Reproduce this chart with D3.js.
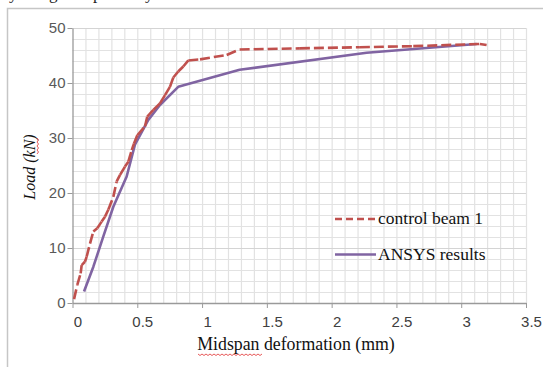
<!DOCTYPE html>
<html>
<head>
<meta charset="utf-8">
<script src="https://cdn.jsdelivr.net/npm/d3@7"></script>
<style>
  body { margin: 0; background: #fff; }
  svg { display: block; }
</style>
</head>
<body>
<div id="chart"></div>
<script>
// control beam 1 (experimental), deformation in mm / load in kN
var beam_x = [0.012, 0.037, 0.063, 0.071, 0.096, 0.109, 0.135, 0.161, 0.191, 0.225, 0.251, 0.277,
    0.315, 0.341, 0.367, 0.405, 0.431, 0.457, 0.475, 0.5, 0.559, 0.577, 0.624, 0.675, 0.714,
    0.752, 0.778, 0.816, 0.855, 0.894, 0.984, 1.19, 1.29, 1.755, 2.218, 2.63, 3.144, 3.196];
var beam_y = [0.7, 3.3, 5.4, 6.9, 7.5, 8.4, 10.8, 13.0, 13.6, 14.8, 15.7, 17.0,
    19.3, 22.1, 23.3, 24.8, 25.7, 27.8, 29.0, 30.5, 32.1, 33.9, 35.1, 36.3, 37.8,
    39.3, 41.0, 42.1, 43.0, 44.1, 44.3, 45.1, 46.1, 46.3, 46.5, 46.7, 47.1, 46.9];

// ANSYS results
var ansys_x = [0.089, 0.161, 0.238, 0.315, 0.418, 0.482, 0.585, 0.675, 0.816, 1.29, 2.27, 3.119];
var ansys_y = [2.1, 6.6, 12.1, 17.5, 23.0, 28.8, 33.3, 36.0, 39.3, 42.4, 45.5, 47.1];

var x_ticks = [0, 0.5, 1, 1.5, 2, 2.5, 3, 3.5];
var y_ticks = [0, 10, 20, 30, 40, 50];
var legend_names = ["control beam  1", "ANSYS results"];

var svg_width = 543, svg_height = 367;
var plot = {left: 72.5, right: 526, top: 28, bottom: 303};
var red = "#c0504d", purple = "#8064a2";

var svg = d3.select("#chart").append("svg")
    .attr("width", svg_width)
    .attr("height", svg_height);

// fragment of the text line above the figure (only descenders visible)
svg.append("text")
    .attr("y", -1)
    .attr("font-family", "'Liberation Serif', serif")
    .attr("font-size", "17px")
    .attr("fill", "#222")
    .selectAll("tspan")
    .data([[9, "y"], [49, "g"], [93, "p"], [145, "y"]])
    .enter().append("tspan")
    .attr("x", function(d) { return d[0]; })
    .text(function(d) { return d[1]; });

// chart frame
svg.append("path")
    .attr("d", "M7.5," + svg_height + "V8.5H" + svg_width)
    .attr("fill", "none")
    .attr("stroke", "#c6c6c6")
    .attr("stroke-width", 1.5);

var xScale = d3.scaleLinear().domain([0, 3.5]).range([plot.left, plot.right]);
var yScale = d3.scaleLinear().domain([0, 50]).range([plot.bottom, plot.top]);

// minor gridlines
svg.append("g")
    .attr("transform", "translate(0," + plot.bottom + ")")
    .call(d3.axisBottom(xScale).tickValues(d3.range(1, 36).map(function(i) { return i / 10; }))
        .tickSize(-(plot.bottom - plot.top)).tickFormat(""))
    .call(function(g) { g.select(".domain").remove(); })
    .selectAll("line").attr("stroke", "#e2e2e2").attr("stroke-width", 1.2);

svg.append("g")
    .attr("transform", "translate(" + plot.left + ",0)")
    .call(d3.axisLeft(yScale).tickValues(d3.range(2, 51, 2))
        .tickSize(-(plot.right - plot.left)).tickFormat(""))
    .call(function(g) { g.select(".domain").remove(); })
    .selectAll("line").attr("stroke", "#e2e2e2").attr("stroke-width", 1.2);

// major gridlines
svg.append("g")
    .attr("transform", "translate(" + plot.left + ",0)")
    .call(d3.axisLeft(yScale).tickValues(y_ticks.slice(1))
        .tickSize(-(plot.right - plot.left)).tickFormat(""))
    .call(function(g) { g.select(".domain").remove(); })
    .selectAll("line").attr("stroke", "#d4d4d4").attr("stroke-width", 1.2);

// y axis
var yAxis = svg.append("g")
    .attr("transform", "translate(" + plot.left + ",0)")
    .call(d3.axisLeft(yScale).tickValues(y_ticks).tickSize(5).tickPadding(2).tickSizeOuter(0));
yAxis.select(".domain").attr("stroke", "#9a9a9a").attr("stroke-width", 1.3);
yAxis.selectAll("line").attr("stroke", "#9a9a9a");
yAxis.selectAll("text")
    .attr("font-family", "'Liberation Sans', sans-serif")
    .attr("font-size", "15px")
    .attr("fill", "#595959");

// x axis
var xAxis = svg.append("g")
    .attr("transform", "translate(0," + plot.bottom + ")")
    .call(d3.axisBottom(xScale).tickValues(x_ticks).tickFormat(d3.format("~g"))
        .tickSize(5).tickPadding(8).tickSizeOuter(0));
xAxis.select(".domain").attr("stroke", "#9a9a9a").attr("stroke-width", 1.3);
xAxis.selectAll("line").attr("stroke", "#9a9a9a");
xAxis.selectAll("text")
    .attr("dx", 5)
    .attr("font-family", "'Liberation Sans', sans-serif")
    .attr("font-size", "15px")
    .attr("fill", "#404040");

// series
var line = d3.line()
    .x(function(d) { return xScale(d[0]); })
    .y(function(d) { return yScale(d[1]); });

var beam = d3.zip(beam_x, beam_y);
var ansys = d3.zip(ansys_x, ansys_y);

svg.append("path")
    .datum(ansys)
    .attr("d", line)
    .attr("fill", "none")
    .attr("stroke", purple)
    .attr("stroke-width", 2.6)
    .attr("stroke-linejoin", "round");

// dash pattern restarts on every segment, like the spreadsheet does
svg.append("g").selectAll("path")
    .data(d3.pairs(beam))
    .enter().append("path")
    .attr("d", line)
    .attr("fill", "none")
    .attr("stroke", red)
    .attr("stroke-width", 2.6)
    .attr("stroke-dasharray", "10,4");

// legend
var legend = svg.append("g");
var legend_rows = legend.selectAll("g")
    .data(legend_names)
    .enter().append("g")
    .attr("transform", function(d, i) { return "translate(335," + (219 + i * 35.5) + ")"; });

legend_rows.append("line")
    .attr("x1", 0).attr("x2", 41)
    .attr("stroke", function(d, i) { return i == 0 ? red : purple; })
    .attr("stroke-width", 2.6)
    .attr("stroke-dasharray", function(d, i) { return i == 0 ? "7,4" : null; });

legend_rows.append("text")
    .attr("x", 43)
    .attr("y", 5)
    .attr("font-family", "'Liberation Serif', serif")
    .attr("font-size", "17.5px")
    .attr("fill", "#111")
    .text(function(d) { return d; });

// axis titles
svg.append("text")
    .attr("x", 296)
    .attr("y", 350)
    .attr("text-anchor", "middle")
    .attr("font-family", "'Liberation Serif', serif")
    .attr("font-size", "17.8px")
    .attr("fill", "#111")
    .text("Midspan deformation (mm)");

svg.append("text")
    .attr("transform", "translate(35,167) rotate(-90)")
    .attr("text-anchor", "middle")
    .attr("font-family", "'Liberation Serif', serif")
    .attr("font-size", "16px")
    .attr("font-style", "italic")
    .attr("fill", "#111")
    .text("Load (kN)");

// spell-check squiggles
function squiggle(x0, x1, y) {
    var d = "M" + x0 + "," + y;
    for (var x = x0, k = 0; x < x1; x += 2, k++) d += "L" + (x + 2) + "," + (y + (k % 2 ? 0 : 1.5));
    return d;
}
svg.append("path")
    .attr("d", squiggle(198, 261, 354))
    .attr("fill", "none").attr("stroke", "#e03030").attr("stroke-width", 0.8);
svg.append("path")
    .attr("d", squiggle(0, 16, 0))
    .attr("transform", "translate(37,154) rotate(-90)")
    .attr("fill", "none").attr("stroke", "#e03030").attr("stroke-width", 0.8);
</script>
</body>
</html>
